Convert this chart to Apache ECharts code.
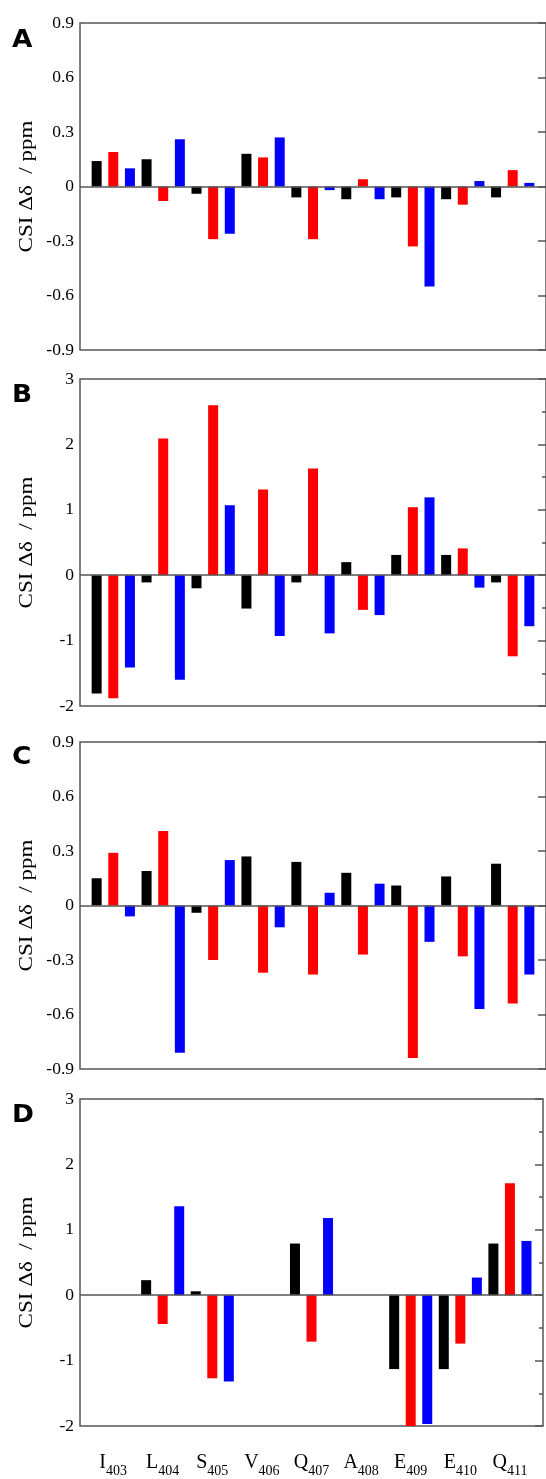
<!DOCTYPE html>
<html><head><meta charset="utf-8">
<script src="https://cdn.jsdelivr.net/npm/echarts@6/dist/echarts.min.js"></script>
<style>html,body{margin:0;padding:0;background:#fff}#c{width:546px;height:1479px}</style>
</head><body><div id="c"></div>
<script>
// ---- data ----
const residues = ['I', 'L', 'S', 'V', 'Q', 'A', 'E', 'E', 'Q'];
const resNums = ['403', '404', '405', '406', '407', '408', '409', '410', '411'];
const panelLetters = ['A', 'B', 'C', 'D'];
const yTitle = 'CSI \u0394\u03b4  / ppm';

const A_black = [0.14, 0.15, -0.04, 0.18, -0.06, -0.07, -0.06, -0.07, -0.06];
const A_red   = [0.19, -0.08, -0.29, 0.16, -0.29, 0.04, -0.33, -0.10, 0.09];
const A_blue  = [0.10, 0.26, -0.26, 0.27, -0.02, -0.07, -0.55, 0.03, 0.02];

const B_black = [-1.81, -0.11, -0.20, -0.51, -0.11, 0.20, 0.31, 0.31, -0.11];
const B_red   = [-1.88, 2.09, 2.60, 1.31, 1.63, -0.53, 1.04, 0.41, -1.24];
const B_blue  = [-1.41, -1.60, 1.07, -0.93, -0.89, -0.61, 1.19, -0.19, -0.78];

const C_black = [0.15, 0.19, -0.04, 0.27, 0.24, 0.18, 0.11, 0.16, 0.23];
const C_red   = [0.29, 0.41, -0.30, -0.37, -0.38, -0.27, -0.84, -0.28, -0.54];
const C_blue  = [-0.06, -0.81, 0.25, -0.12, 0.07, 0.12, -0.20, -0.57, -0.38];

const D_black = [null, 0.23, 0.06, null, 0.79, null, -1.13, -1.13, 0.79];
const D_red   = [null, -0.44, -1.27, null, -0.71, null, -2.00, -0.74, 1.71];
const D_blue  = [null, 1.36, -1.32, null, 1.18, null, -1.97, 0.27, 0.83];

const smallAxis = { min: -0.9, max: 0.9, interval: 0.3, minor: false };
const largeAxis = { min: -2, max: 3, interval: 1, minor: true };

// ---- layout ----
const colors = ['#000000', '#ff0000', '#0000ff'];
const panels = [
  { letter: panelLetters[0], sets: [A_black, A_red, A_blue], axis: smallAxis, top: 23, letterDy: 18 },
  { letter: panelLetters[1], sets: [B_black, B_red, B_blue], axis: largeAxis, top: 379, letterDy: 17 },
  { letter: panelLetters[2], sets: [C_black, C_red, C_blue], axis: smallAxis, top: 742, letterDy: 16 },
  { letter: panelLetters[3], sets: [D_black, D_red, D_blue], axis: largeAxis, top: 1099, letterDy: 17 }
];
const H = 327, LEFT = 80, RIGHT = -2;
const frameColor = '#555';
const serif = '"Liberation Serif", "DejaVu Serif", serif';

const grids = [], xAxes = [], yAxes = [], series = [], graphics = [];
panels.forEach((p, i) => {
  const last = i === panels.length - 1;
  grids.push({ left: LEFT, right: RIGHT, top: p.top, height: H, show: true,
               borderColor: frameColor, borderWidth: 1.5, backgroundColor: 'transparent' });
  xAxes.push({
    type: 'value', gridIndex: i, min: 0, max: 28, interval: 1,
    axisLine: { show: false }, axisTick: { show: false }, splitLine: { show: false },
    axisLabel: last ? {
      show: true, margin: 27, interval: 0,
      formatter: v => {
        const k = v - 2;
        if (k >= 0 && k % 3 === 0 && k / 3 < residues.length) {
          const r = k / 3;
          return '{a|' + residues[r] + '}{b|' + resNums[r] + '}';
        }
        return '';
      },
      rich: {
        a: { fontFamily: serif, fontSize: 20, lineHeight: 20, color: '#000', verticalAlign: 'top' },
        b: { fontFamily: serif, fontSize: 14, lineHeight: 37, color: '#000', verticalAlign: 'middle' }
      }
    } : { show: false }
  });
  yAxes.push({
    type: 'value', gridIndex: i, position: 'left', min: p.axis.min, max: p.axis.max, interval: p.axis.interval,
    axisLine: { show: false }, axisTick: { show: false }, splitLine: { show: false },
    axisLabel: { show: true, margin: 6, fontFamily: serif, fontSize: 17.5, color: '#000' }
  });
  yAxes.push({
    type: 'value', gridIndex: i, position: 'right', min: p.axis.min, max: p.axis.max, interval: p.axis.interval,
    axisLine: { show: false }, splitLine: { show: false }, axisLabel: { show: false },
    axisTick: { show: true, inside: true, length: 8, lineStyle: { color: frameColor, width: 1.5 } },
    minorTick: { show: p.axis.minor, splitNumber: 2, length: 4, lineStyle: { color: frameColor, width: 1.5 } }
  });
  p.sets.forEach((vals, s) => {
    series.push({
      type: 'bar', xAxisIndex: i, yAxisIndex: 2 * i, barWidth: 10, barGap: '-100%',
      itemStyle: { color: colors[s] },
      data: vals.map((v, r) => [3 * r + s + 1, v === null ? '-' : v]),
      markLine: s === 0 ? {
        silent: true, symbol: ['none', 'none'], label: { show: false },
        lineStyle: { color: frameColor, width: 1.5, type: 'solid' },
        data: [{ yAxis: 0 }], animation: false
      } : undefined
    });
  });
  graphics.push({
    type: 'text', x: 12, y: p.top + p.letterDy, scaleX: 1.1,
    style: { text: p.letter, font: 'bold 24px "DejaVu Sans"', fill: '#000', align: 'left', verticalAlign: 'middle' }
  });
  graphics.push({
    type: 'text', x: 27, y: p.top + H / 2, rotation: Math.PI / 2, scaleX: 1.28,
    style: { text: yTitle, font: '18px ' + serif, fill: '#000', align: 'center', verticalAlign: 'middle' }
  });
});

const chart = echarts.init(document.getElementById('c'), null, { renderer: 'canvas' });
chart.setOption({
  animation: false,
  grid: grids, xAxis: xAxes, yAxis: yAxes, series: series, graphic: graphics
});
</script></body></html>
